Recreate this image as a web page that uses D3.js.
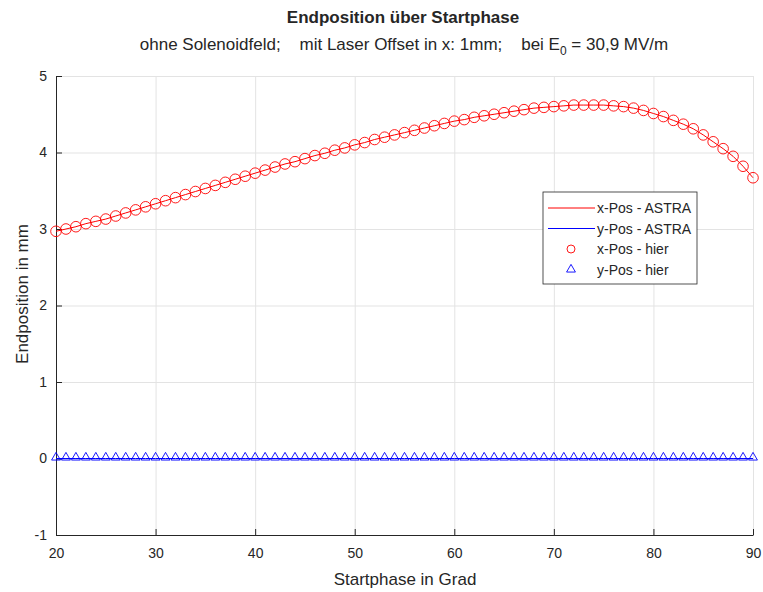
<!DOCTYPE html>
<html>
<head>
<meta charset="utf-8">
<script src="https://cdn.jsdelivr.net/npm/d3@7"></script>
<style>
  body { margin: 0; background: #fff; }
  text { font-family: "Liberation Sans", Arial, sans-serif; fill: #262626; }
  .grid line { stroke: #e3e3e3; stroke-width: 1; }
  .grid path { display: none; }
  .axis path, .axis line { stroke: #262626; }
</style>
</head>
<body>
<div id="chart"></div>
<script>
// Startphase in Grad
var phase = d3.range(20, 91);

// x-Endposition (mm), one per degree 20..90
var xPos = [
  2.97, 3.00, 3.03, 3.07, 3.10, 3.13, 3.17, 3.21, 3.25, 3.29,
  3.33, 3.37, 3.41, 3.45, 3.49, 3.53, 3.57, 3.61, 3.65, 3.69,
  3.73, 3.77, 3.81, 3.85, 3.88, 3.92, 3.96, 3.99, 4.03, 4.06,
  4.10, 4.13, 4.17, 4.20, 4.23, 4.26, 4.29, 4.32, 4.35, 4.38,
  4.41, 4.43, 4.46, 4.48, 4.50, 4.52, 4.54, 4.56, 4.58, 4.59,
  4.60, 4.61, 4.62, 4.62, 4.62, 4.62, 4.61, 4.60, 4.58, 4.55,
  4.51, 4.47, 4.42, 4.37, 4.31, 4.23, 4.14, 4.05, 3.95, 3.82,
  3.67
];

// y-Endposition (mm): stays at zero
var yPos = [
  0, 0, 0, 0, 0, 0, 0, 0, 0, 0,
  0, 0, 0, 0, 0, 0, 0, 0, 0, 0,
  0, 0, 0, 0, 0, 0, 0, 0, 0, 0,
  0, 0, 0, 0, 0, 0, 0, 0, 0, 0,
  0, 0, 0, 0, 0, 0, 0, 0, 0, 0,
  0, 0, 0, 0, 0, 0, 0, 0, 0, 0,
  0, 0, 0, 0, 0, 0, 0, 0, 0, 0,
  0
];

var xTicks = [20, 30, 40, 50, 60, 70, 80, 90];
var yTicks = [-1, 0, 1, 2, 3, 4, 5];
var legendLabels = ["x-Pos - ASTRA", "y-Pos - ASTRA", "x-Pos - hier", "y-Pos - hier"];

var margin = { top: 76, right: 10, bottom: 57, left: 56 },
  width = 763 - margin.left - margin.right,
  height = 592 - margin.top - margin.bottom;

var root = d3.select("#chart").append("svg")
  .attr("width", 763)
  .attr("height", 592);

var svg = root.append("g")
  .attr("transform", "translate(" + margin.left + "," + margin.top + ")");

var xScale = d3.scaleLinear().domain([20, 90]).range([0, width]);
var yScale = d3.scaleLinear().domain([-1, 5]).range([height, 0]);

// gridlines
svg.append("g")
  .attr("class", "grid")
  .attr("transform", "translate(0," + height + ")")
  .call(d3.axisBottom(xScale).tickValues(xTicks).tickSize(-height).tickFormat(""));
svg.append("g")
  .attr("class", "grid")
  .call(d3.axisLeft(yScale).tickValues(yTicks).tickSize(-width).tickFormat(""));

// axes, ticks pointing inward like matlab
var xAxis = svg.append("g")
  .attr("class", "axis")
  .attr("transform", "translate(0," + height + ")")
  .call(d3.axisBottom(xScale).tickValues(xTicks).tickFormat(d3.format("d"))
    .tickSizeInner(-6).tickSizeOuter(0).tickPadding(13));
var yAxis = svg.append("g")
  .attr("class", "axis")
  .call(d3.axisLeft(yScale).tickValues(yTicks).tickFormat(function (d) { return d < 0 ? "-" + (-d) : d; })
    .tickSizeInner(-6).tickSizeOuter(0).tickPadding(9));
xAxis.selectAll("text").attr("font-size", "14px").attr("fill", "#262626");
yAxis.selectAll("text").attr("font-size", "14px").attr("fill", "#262626");

var xData = phase.map(function (p, i) { return [p, xPos[i]]; });
var yData = phase.map(function (p, i) { return [p, yPos[i]]; });

var lineGen = d3.line()
  .x(function (d) { return xScale(d[0]); })
  .y(function (d) { return yScale(d[1]); });

svg.append("path")
  .attr("d", lineGen(xData))
  .attr("fill", "none")
  .attr("stroke", "#ff0000")
  .attr("stroke-width", 1);
svg.append("path")
  .attr("d", lineGen(yData))
  .attr("fill", "none")
  .attr("stroke", "#0000ff")
  .attr("stroke-width", 1);

// markers
svg.append("g").selectAll("circle")
  .data(xData)
  .enter().append("circle")
  .attr("cx", function (d) { return xScale(d[0]); })
  .attr("cy", function (d) { return yScale(d[1]); })
  .attr("r", 5.3)
  .attr("fill", "none")
  .attr("stroke", "#ff0000")
  .attr("stroke-width", 0.9);

var tri = d3.symbol().type(d3.symbolTriangle).size(34);
svg.append("g").selectAll("path")
  .data(yData)
  .enter().append("path")
  .attr("d", tri)
  .attr("transform", function (d) { return "translate(" + xScale(d[0]) + "," + (yScale(d[1]) - 1) + ")"; })
  .attr("fill", "none")
  .attr("stroke", "#0000ff")
  .attr("stroke-width", 0.9);

// titles
root.append("text")
  .attr("x", 403).attr("y", 23)
  .attr("text-anchor", "middle")
  .attr("font-size", "17px")
  .attr("font-weight", "bold")
  .text("Endposition über Startphase");

var sub = root.append("text")
  .attr("x", 404).attr("y", 50)
  .attr("text-anchor", "middle")
  .attr("font-size", "17px")
  .attr("xml:space", "preserve");
sub.append("tspan").text("ohne Solenoidfeld;    mit Laser Offset in x: 1mm;    bei E");
sub.append("tspan").attr("font-size", "12px").attr("dy", 5).text("0");
sub.append("tspan").attr("dy", -5).text(" = 30,9 MV/m");

root.append("text")
  .attr("x", 405).attr("y", 585)
  .attr("text-anchor", "middle")
  .attr("font-size", "17px")
  .text("Startphase in Grad");

root.append("text")
  .attr("transform", "translate(28,294) rotate(-90)")
  .attr("text-anchor", "middle")
  .attr("font-size", "17px")
  .text("Endposition in mm");

// legend
var legend = svg.append("g").attr("transform", "translate(" + (543 - margin.left) + "," + (192 - margin.top) + ")");
legend.append("rect")
  .attr("width", 154).attr("height", 92)
  .attr("fill", "#fff").attr("stroke", "#262626").attr("stroke-width", 0.8);
var colors = ["#ff0000", "#0000ff", "#ff0000", "#0000ff"];
legendLabels.forEach(function (lab, i) {
  var ly = 16 + i * 20.5;
  if (i < 2) {
    legend.append("line").attr("x1", 5).attr("x2", 52).attr("y1", ly).attr("y2", ly)
      .attr("stroke", colors[i]).attr("stroke-width", 1);
  } else if (i == 2) {
    legend.append("circle").attr("cx", 28).attr("cy", ly).attr("r", 4)
      .attr("fill", "none").attr("stroke", colors[i]).attr("stroke-width", 0.9);
  } else {
    legend.append("path").attr("d", tri).attr("transform", "translate(28," + ly + ")")
      .attr("fill", "none").attr("stroke", colors[i]).attr("stroke-width", 0.9);
  }
  legend.append("text").attr("x", 54).attr("y", ly + 5)
    .attr("font-size", "14px").text(lab);
});
</script>
</body>
</html>
